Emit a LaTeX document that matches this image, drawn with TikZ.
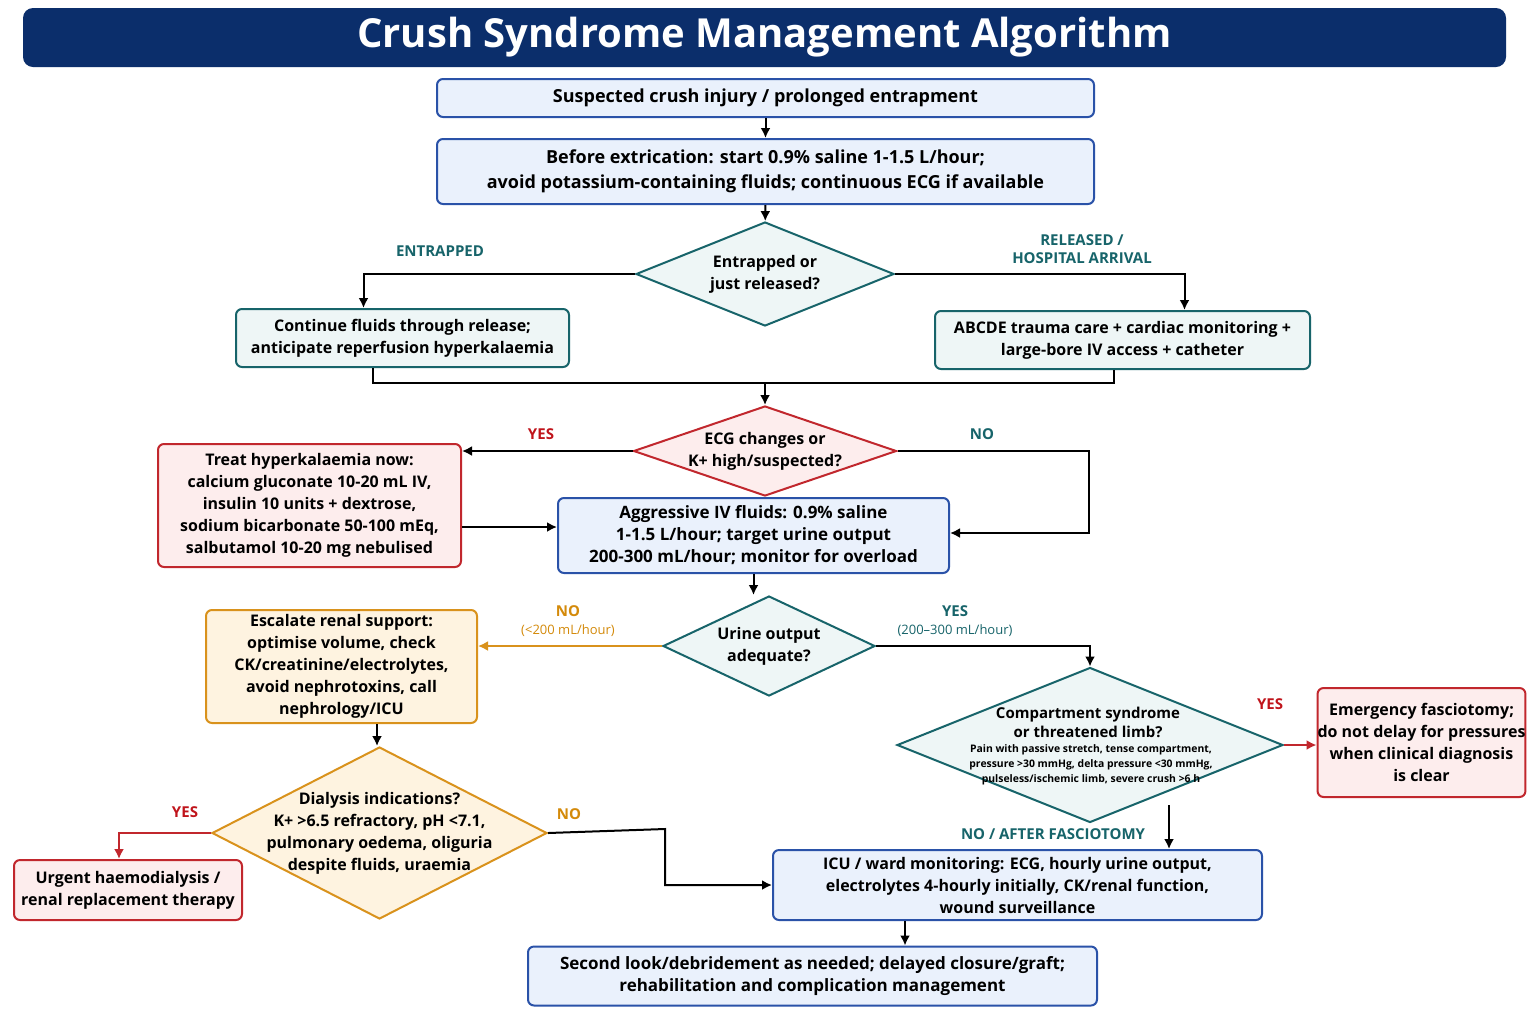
\documentclass[tikz,border=0pt]{standalone}
\usepackage{fontspec}
\setmainfont{Open Sans}
\usetikzlibrary{shapes.geometric,arrows.meta,calc}
\definecolor{navy}{HTML}{0B2E6B}
\definecolor{bB}{HTML}{2A52A8}\definecolor{bF}{HTML}{EAF1FC}
\definecolor{tB}{HTML}{17646A}\definecolor{tF}{HTML}{EEF6F6}
\definecolor{rB}{HTML}{C1272D}\definecolor{rF}{HTML}{FDEDED}
\definecolor{oB}{HTML}{D9921C}\definecolor{oF}{HTML}{FEF3E0}
\definecolor{rL}{HTML}{C0141B}\definecolor{oL}{HTML}{D48A0A}
\tikzset{
 box/.style={rectangle,rounded corners=3pt,line width=1pt,align=center,font=\bfseries\fontsize{8}{11}\selectfont,inner sep=0pt},
 bbox/.style={box,draw=bB,fill=bF},
 tbox/.style={box,draw=tB,fill=tF},
 rbox/.style={box,draw=rB,fill=rF},
 obox/.style={box,draw=oB,fill=oF},
 diam/.style={diamond,inner sep=0pt,line width=1pt},
 dtxt/.style={align=center,font=\bfseries\fontsize{8}{11}\selectfont},
 arr/.style={line width=1pt,-{Latex[length=5pt,width=5pt]}},
 ln/.style={line width=1pt},
 lab/.style={font=\bfseries\fontsize{7.5}{9}\selectfont,align=center},
}
\begin{document}
\begin{tikzpicture}[x=0.5pt,y=-0.5pt]
\useasboundingbox (0,0) rectangle (1536,1024);
\fill[white] (0,0) rectangle (1536,1024);
\node[rectangle,rounded corners=5pt,fill=navy,minimum width=741.5pt,minimum height=29.5pt,text=white,font=\bfseries\fontsize{20}{24}\selectfont] (title) at (764.5,37.5) {Crush Syndrome Management Algorithm};
\node[bbox,minimum width=328.5pt,minimum height=19pt,font=\bfseries\fontsize{9}{11}\selectfont] (n1) at (765.5,98) {Suspected crush injury / prolonged entrapment};
\node[bbox,minimum width=328.5pt,minimum height=32.5pt,font=\bfseries\fontsize{9}{12.5}\selectfont] (n2) at (765.5,171.5) {Before extrication: start 0.9\% saline 1-1.5 L/hour;\\avoid potassium-containing fluids; continuous ECG if available};
\node[diam,draw=tB,fill=tF,minimum width=129pt,minimum height=52pt] (d1) at (765,274) {};
\node[dtxt] at (d1) {Entrapped or\\just released?};
\node[tbox,minimum width=166.5pt,minimum height=29pt] (n3) at (402.5,338) {Continue fluids through release;\\anticipate reperfusion hyperkalaemia};
\node[tbox,minimum width=187.5pt,minimum height=29pt] (n4) at (1122.5,340) {ABCDE trauma care + cardiac monitoring +\\large-bore IV access + catheter};
\node[diam,draw=rB,fill=rF,minimum width=131.5pt,minimum height=45pt] (d2) at (765,451) {};
\node[dtxt] at (d2) {ECG changes or\\K+ high/suspected?};
\node[rbox,minimum width=151.5pt,minimum height=61.5pt] (r1) at (309.5,505.5) {Treat hyperkalaemia now:\\calcium gluconate 10-20 mL IV,\\insulin 10 units + dextrose,\\sodium bicarbonate 50-100 mEq,\\salbutamol 10-20 mg nebulised};
\node[bbox,minimum width=195.5pt,minimum height=37.5pt,font=\bfseries\fontsize{8.5}{11}\selectfont] (n5) at (753.5,535.5) {Aggressive IV fluids: 0.9\% saline\\1-1.5 L/hour; target urine output\\200-300 mL/hour; monitor for overload};
\node[diam,draw=tB,fill=tF,minimum width=106pt,minimum height=50pt] (d3) at (769,646) {};
\node[dtxt] at (d3) {Urine output\\adequate?};
\node[obox,minimum width=135.5pt,minimum height=56.5pt] (o1) at (341.5,666.5) {Escalate renal support:\\optimise volume, check\\CK/creatinine/electrolytes,\\avoid nephrotoxins, call\\nephrology/ICU};
\node[diam,draw=tB,fill=tF,minimum width=193pt,minimum height=77.5pt] (d4) at (1090,745) {};
\node[align=center,font=\bfseries\fontsize{7.5}{9.5}\selectfont] at (1088,722) {Compartment syndrome\\or threatened limb?};
\node[align=center,font=\bfseries\fontsize{5.2}{7.5}\selectfont] at (1091,765) {Pain with passive stretch, tense compartment,\\pressure >30 mmHg, delta pressure <30 mmHg,\\pulseless/ischemic limb, severe crush >6 h};
\node[rbox,minimum width=101.5pt,minimum height=54.5pt] (r2) at (1421.5,742.5) {Emergency fasciotomy;\\do not delay for pressures\\when clinical diagnosis\\is clear};
\node[diam,draw=oB,fill=oF,minimum width=167.5pt,minimum height=86pt] (d5) at (379.5,833) {};
\node[dtxt] at (d5) {Dialysis indications?\\K+ >6.5 refractory, pH <7.1,\\pulmonary oedema, oliguria\\despite fluids, uraemia};
\node[rbox,minimum width=114pt,minimum height=30pt] (r3) at (128,890) {Urgent haemodialysis /\\renal replacement therapy};
\node[bbox,minimum width=244.5pt,minimum height=35pt] (n6) at (1017.5,885) {ICU / ward monitoring: ECG, hourly urine output,\\electrolytes 4-hourly initially, CK/renal function,\\wound surveillance};
\node[bbox,minimum width=284.5pt,minimum height=29.5pt,font=\bfseries\fontsize{8.5}{11}\selectfont] (n7) at (812.5,976) {Second look/debridement as needed; delayed closure/graft;\\rehabilitation and complication management};
% connectors
\draw[arr] (n1) -- (n2);
\draw[arr] (n2) -- (d1);
\draw[arr] (d1.west) -| ($(n3.north)+(-39,0)$);
\draw[arr] (d1.east) -| ($(n4.north)+(62,0)$);
\node[lab,text=tB] (l1) at (440,251) {ENTRAPPED};
\node[lab,text=tB] (l2) at (1082,249) {RELEASED /\\HOSPITAL ARRIVAL};
\coordinate (m1) at (373,383); \coordinate (m2) at (1114,383);
\draw[ln] (m1 |- n3.south) -- (m1) -- (m2) -- (m2 |- n4.south);
\draw[arr] (d2.north |- m1) -- (d2.north);
\draw[arr] (d2.west) -- (r1.east |- d2.west);
\node[lab,text=rL] (l3) at (541,434) {YES};
\coordinate (m3) at (1089,533);
\draw[arr] (d2.east) -| (m3) -- (n5.east |- m3);
\node[lab,text=tB] (l4) at (982,434) {NO};
\draw[arr] (r1.east |- 0,527) -- (n5.west |- 0,527);
\draw[arr] (n5.south) -- (n5.south |- d3.north);
\draw[arr,draw=oB] (d3.west) -- (o1.east |- d3.west);
\node[lab,text=oL] (l5) at (568,621) {NO\\{\mdseries\fontsize{6.5}{8}\selectfont(<200 mL/hour)}};
\draw[arr] (d3.east) -| (d4.north);
\node[lab,text=tB] (l6) at (955,621) {YES\\{\mdseries\fontsize{6.5}{8}\selectfont(200–300 mL/hour)}};
\draw[arr,draw=rB] (d4.east) -- (r2.west |- d4.east);
\node[lab,text=rL] (l7) at (1270,704) {YES};
\coordinate (m4) at (1169,805);
\draw[arr] (m4) -- (m4 |- n6.north);
\node[lab,text=tB] (l8) at (1053,834) {NO / AFTER FASCIOTOMY};
\draw[arr] (o1.south -| 377,0) -- (d5.north -| 377,0);
\coordinate (m5) at (119,828);
\draw[arr,draw=rB] (d5.west) -| (m5 |- r3.north);
\node[lab,text=rL] (l9) at (185,812) {YES};
\coordinate (m6) at (665,829);
\draw[arr] (d5.east) -- (m6) |- (n6.west);
\node[lab,text=oL] (l10) at (569,814) {NO};
\draw[arr] (n6.south -| 905,0) -- (n7.north -| 905,0);
\end{tikzpicture}
\end{document}
